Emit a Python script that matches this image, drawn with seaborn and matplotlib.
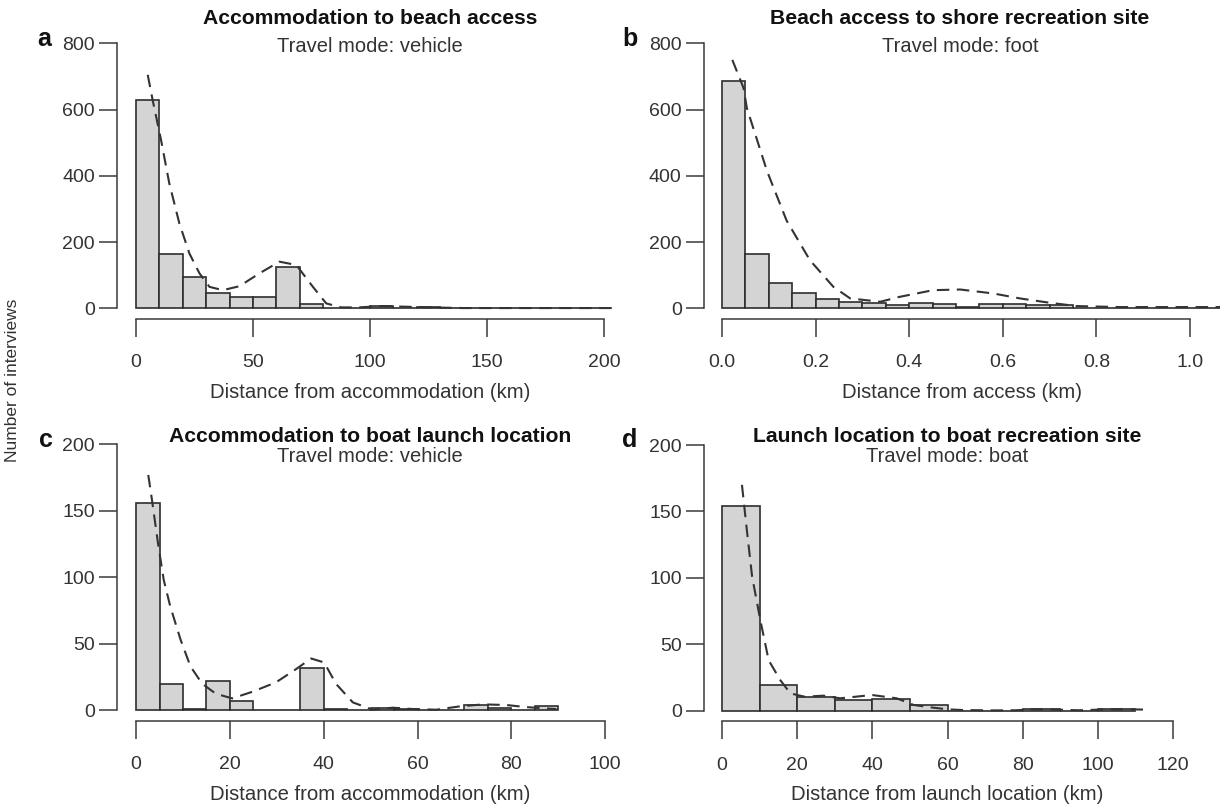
import numpy as np
import pandas as pd
import matplotlib
matplotlib.use("Agg")
import matplotlib.pyplot as plt
import seaborn as sns

# ---------------- data ----------------
# Panel a: accommodation -> beach access (10 km bins, 0-200)
a_edges = list(range(0, 210, 10))
a_counts = [630, 165, 94, 46, 33, 33, 125, 13, 2, 1, 7, 2, 3, 1, 1, 0, 1, 0, 1, 1]
a_curve_x = [5.0, 7.1, 10.7, 14.2, 18.5, 22.8, 27.1, 31.4, 37.1, 44.2, 52.8, 61.3, 68.5, 75.6,
             81.3, 87.8, 95.0, 105.5, 115.5, 125.5, 140.0, 160.0, 180.0, 205.0]
a_curve_y = [705, 629, 508, 378, 257, 166, 106, 65, 55, 67, 106, 141, 131, 65,
             15, 3, 3, 7, 5, 3, 1, 1, 1, 1]

# Panel b: beach access -> shore recreation site (0.05 km bins)
b_edges = [round(0.05 * i, 2) for i in range(0, 23)]
b_counts = [685, 165, 78, 45, 29, 19, 15, 9, 15, 13, 5, 13, 13, 9, 9, 2, 1, 1, 1, 1, 1, 1]
b_curve_x = [0.022, 0.046, 0.053, 0.096, 0.138, 0.188, 0.238, 0.274, 0.338, 0.38, 0.451,
             0.509, 0.58, 0.637, 0.70, 0.758, 0.85, 0.95, 1.07]
b_curve_y = [750, 665, 605, 415, 265, 145, 65, 30, 20, 35, 55,
             57, 45, 30, 17, 7, 4, 4, 4]

# Panel c: accommodation -> boat launch location (5 km bins, 0-90)
c_edges = list(range(0, 95, 5))
c_counts = [156, 20, 1, 22, 7, 0, 0, 32, 1, 0, 2, 1, 0, 0, 4, 2, 0, 3]
c_curve_x = [2.6, 3.4, 4.7, 5.9, 7.3, 9.5, 11.6, 14.1, 17.0, 20.5, 24.8, 29.8, 34.1, 37.3,
             40.1, 42.6, 46.2, 50.4, 54.7, 59.0, 64.0, 69.0, 74.0, 79.0, 83.0, 87.0, 89.6]
c_curve_y = [177, 158, 125, 98, 78, 53, 33, 20, 12.5, 9, 14, 21, 31, 39,
             36, 20, 6, 0.5, 2, 1, 0.5, 3, 4.5, 4, 2.5, 1.5, 1]

# Panel d: launch location -> boat recreation site (10 km bins, 0-110)
d_edges = list(range(0, 120, 10))
d_counts = [154, 19, 10, 8, 9, 4, 0, 0, 1, 0, 1]
d_curve_x = [5.3, 6.6, 8.0, 10.2, 12.4, 15.5, 18.2, 22.0, 27.0, 31.4, 35.5, 39.9, 46.5,
             51.0, 55.5, 60.0, 64.0, 72.0, 78.0, 83.5, 89.0, 95.0, 103.0, 107.7, 113.0]
d_curve_y = [170, 136, 101, 68, 38, 23, 13, 10.5, 11.3, 9.3, 10.5, 11.8, 9.3,
             4.3, 2.5, 1, 0.5, 0.2, 0.3, 1, 0.8, 0.3, 1, 1, 0.8]

titles = ["Accommodation to beach access", "Beach access to shore recreation site",
          "Accommodation to boat launch location", "Launch location to boat recreation site"]
subtitles = ["Travel mode: vehicle", "Travel mode: foot", "Travel mode: vehicle", "Travel mode: boat"]
xlabels = ["Distance from accommodation (km)", "Distance from access (km)",
           "Distance from accommodation (km)", "Distance from launch location (km)"]
letters = ["a", "b", "c", "d"]
xticks_list = [[0, 50, 100, 150, 200], [0.0, 0.2, 0.4, 0.6, 0.8, 1.0],
               [0, 20, 40, 60, 80, 100], [0, 20, 40, 60, 80, 100, 120]]
xticklabels_list = [["0", "50", "100", "150", "200"], ["0.0", "0.2", "0.4", "0.6", "0.8", "1.0"],
                    ["0", "20", "40", "60", "80", "100"], ["0", "20", "40", "60", "80", "100", "120"]]
yticks_list = [[0, 200, 400, 600, 800], [0, 200, 400, 600, 800],
               [0, 50, 100, 150, 200], [0, 50, 100, 150, 200]]
ylabel = "Number of interviews"

# ---------------- style ----------------
sns.set_theme(style="ticks")
plt.rcParams['font.family'] = ['Liberation Sans', 'DejaVu Sans']

W, H = 1220, 806
fig = plt.figure(figsize=(W / 100, H / 100), dpi=100)


def add_ax(left, right, top, bottom):
    return fig.add_axes([left / W, (H - bottom) / H, (right - left) / W, (bottom - top) / H])


axes = [
    add_ax(117.3, 622.7, 32.7, 319.0),
    add_ax(704.0, 1220.0, 32.7, 319.0),
    add_ax(117.3, 624.0, 433.7, 721.0),
    add_ax(704.0, 1191.0, 434.4, 721.3),
]
xlims = [(-8, 208), (-0.0385, 1.064), (-4, 104), (-4.8, 124.8)]
ylims = [(-32, 832), (-32, 832), (-8, 208), (-8, 208)]

panels = [
    (a_edges, a_counts, a_curve_x, a_curve_y),
    (b_edges, b_counts, b_curve_x, b_curve_y),
    (c_edges, c_counts, c_curve_x, c_curve_y),
    (d_edges, d_counts, d_curve_x, d_curve_y),
]

axis_col = "#3a3a3a"
for i, (ax, (edges, counts, cx, cy)) in enumerate(zip(axes, panels)):
    edges_arr = np.array(edges, dtype=float)
    centers = (edges_arr[:-1] + edges_arr[1:]) / 2
    df = pd.DataFrame({"x": centers, "w": np.array(counts, dtype=float)})
    sns.histplot(data=df, x="x", weights="w", bins=[float(e) for e in edges], ax=ax,
                 stat="count", color="#d4d4d4", edgecolor="#2e2e2e", linewidth=1.2,
                 alpha=1.0)
    cdf = pd.DataFrame({"x": cx, "y": cy})
    sns.lineplot(data=cdf, x="x", y="y", ax=ax, color="#333333", linewidth=1.5,
                 estimator=None, sort=False)
    ln = ax.lines[-1]
    ln.set_dashes((6.0, 3.6))
    if i == 0:
        ln.set_clip_on(False)

    ax.set_xlim(*xlims[i])
    ax.set_ylim(*ylims[i])
    ax.set_xticks(xticks_list[i])
    ax.set_xticklabels(xticklabels_list[i])
    ax.set_yticks(yticks_list[i])
    ax.set_yticklabels([str(v) for v in yticks_list[i]])
    for s in ["top", "right"]:
        ax.spines[s].set_visible(False)
    ax.spines["left"].set_bounds(yticks_list[i][0], yticks_list[i][-1])
    ax.spines["bottom"].set_bounds(xticks_list[i][0], xticks_list[i][-1])
    for s in ["left", "bottom"]:
        ax.spines[s].set_color(axis_col)
        ax.spines[s].set_linewidth(1.1)
    ax.tick_params(axis="both", direction="out", length=13.3, width=1.1, color=axis_col,
                   labelsize=14, labelcolor="#333333")
    ax.tick_params(axis="y", pad=2.8)
    ax.tick_params(axis="x", pad=12.2)
    ax.set_ylabel("")
    ax.set_xlabel(xlabels[i], fontsize=14.6, color="#333333", labelpad=8)
    ax.patch.set_alpha(0)

# title/subtitle/letter positions in figure pixels
title_y = [18, 18, 436, 436]
sub_y = [46, 46, 456, 456]
title_x = [370, 960, 370, 947]
letter_xy = [(44, 39), (630, 39), (46, 440), (630, 440)]
for i in range(4):
    fig.text(title_x[i] / W, 1 - title_y[i] / H, titles[i], ha="center", va="center",
             fontsize=15.2, fontweight="bold", color="#111111")
    fig.text(title_x[i] / W, 1 - sub_y[i] / H, subtitles[i], ha="center", va="center",
             fontsize=14.5, color="#333333")
    fig.text(letter_xy[i][0] / W, 1 - letter_xy[i][1] / H, letters[i], ha="center",
             va="center", fontsize=18, fontweight="bold", color="#111111")

fig.text(13 / W, 1 - 380 / H, ylabel, rotation=90, ha="center", va="center",
         fontsize=12.5, color="#333333")

fig.savefig("out.png", dpi=100)
